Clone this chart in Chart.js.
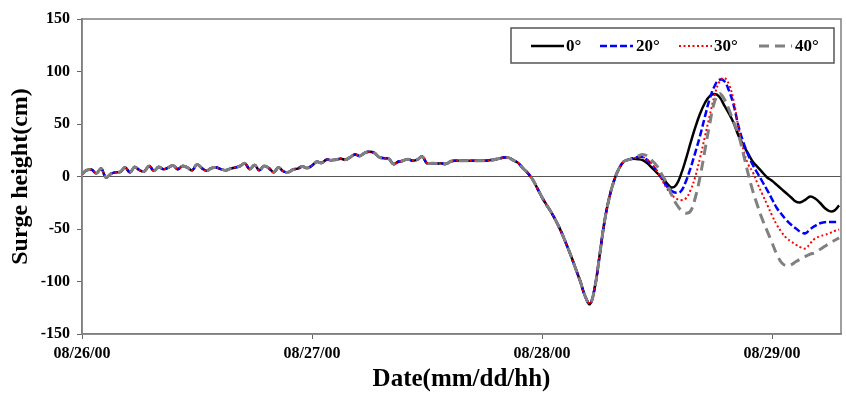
<!DOCTYPE html>
<html>
<head>
<meta charset="utf-8">
<script src="https://cdn.jsdelivr.net/npm/chart.js@4.4.0/dist/chart.umd.min.js"></script>
<style>
  html, body { margin: 0; padding: 0; background: #fff; }
  #wrap { width: 846px; height: 398px; }
</style>
</head>
<body>
<div id="wrap"><canvas id="surgeChart"></canvas></div>
<script>
// x axis in hours from 08/26/00, one sample every half hour
const dayLabels = ['08/26/00', '08/27/00', '08/28/00', '08/29/00']
const angleLabels = ['0\u00b0', '20\u00b0', '30\u00b0', '40\u00b0']

// all four runs overlap until about 08/28/09
const sharedDay1 = [
  2.2, 6, 6.5, 3, 7.5, -1, 2.5, 4, 4.5, 8.5, 4, 9,
  6, 5, 10, 5.5, 9, 7, 8.5, 10.5, 7, 10, 8.5, 6,
  11.5, 8, 5.5, 8, 8.5, 7, 6, 7.5, 8.5, 10, 12.5, 7,
  11, 6, 10, 8, 4, 8.5, 5, 4, 6.5, 7.5, 9.5, 8
]
const sharedDay2 = [
  10.5, 14, 13, 16, 15.5, 16, 17, 16, 18.5, 21, 19.5, 22.5,
  23.5, 22.5, 18.5, 17.5, 17, 11.8, 14, 15, 16.5, 15, 16, 19,
  12.7, 12.7, 12.4, 12.5, 12, 14.5, 15, 15, 15, 15, 15, 15,
  15, 15.5, 16, 17, 18, 18, 15.5, 13, 8, 3.5, -2.5, -11
]
const sharedDay3 = [
  -19.8, -27.4, -34.6, -43, -52.5, -63.5, -75, -87.5, -100, -114,
  -121.5, -106, -76, -44, -21, -4.5, 7, 14, 16
]

// from 08/28/09:30 to 08/29/07
const tail0 = [
  17, 16.5, 15.5, 12.5, 8, 3.5, -1, -6, -10.5, -8, 2,
  16, 32, 47, 60, 70, 76.5, 78.5, 76, 68, 60, 51,
  39, 30, 22, 14, 9, 4, -1, -4, -8, -12, -16,
  -20, -24, -24.5, -22, -19, -21, -25, -30, -33, -32.5, -27.5
]
const tail20 = [
  17.5, 18.5, 18.5, 15.5, 11, 5, -2, -9, -13.5, -15.5, -14,
  -5, 8, 23, 39, 57, 74, 86, 92, 91, 82, 68,
  48, 33, 21, 11, 3, -5, -13, -21.5, -30, -36, -41.5,
  -46, -49.5, -53, -54, -50, -47, -44.5, -43.5, -43.3, -43.3, -43.3
]
const tail30 = [
  17, 18.5, 18.5, 16, 11.5, 5, -3, -11, -17, -21, -22.5,
  -21, -13, 0, 18, 38, 58, 77, 90, 94, 88, 72,
  47, 26, 12, 4, -7, -17, -27, -37, -46, -53, -58.5,
  -62, -65, -67.5, -68.5, -63.5, -59, -57, -55.5, -54, -52, -50.5
]
const tail40 = [
  17, 19.5, 21, 19.5, 15, 10, 2, -6, -17, -26, -32,
  -35, -33, -20, 0, 25, 50, 71, 79, 74, 64, 52,
  40, 22, 3, -14, -28, -41, -52, -63, -74, -82, -85,
  -84, -81, -78.5, -76, -74, -72.5, -69.5, -66.5, -63.5, -61, -58.5
]

const shared = sharedDay1.concat(sharedDay2, sharedDay3)
const hours = []
for (let i = 0; i < shared.length + tail0.length; i++) hours.push(i * 0.5)

function toPoints (tail) {
  return shared.concat(tail).map((v, i) => ({ x: hours[i], y: v }))
}

const serif = 'Liberation Serif, Times New Roman, serif'

const frameBox = {
  id: 'frameBox',
  afterDatasetsDraw (chart) {
    const a = chart.chartArea
    const ctx = chart.ctx
    ctx.save()
    ctx.strokeStyle = '#7f7f7f'
    ctx.lineWidth = 1.5
    ctx.strokeRect(a.left, a.top, a.right - a.left, a.bottom - a.top)
    ctx.restore()
  }
}

// legend box sits inside the plot, top right
const legendBox = {
  id: 'legendBox',
  afterDraw (chart) {
    const ctx = chart.ctx
    const lineX = [531, 600, 679, 759]
    const textX = [566, 636, 714, 795]
    const y = 46
    ctx.save()
    ctx.fillStyle = '#fff'
    ctx.fillRect(511, 28, 323, 35)
    ctx.strokeStyle = '#555'
    ctx.lineWidth = 1.5
    ctx.strokeRect(511, 28, 323, 35)
    chart.data.datasets.forEach((ds, i) => {
      ctx.beginPath()
      ctx.strokeStyle = ds.borderColor
      ctx.lineWidth = ds.borderWidth
      ctx.setLineDash(ds.borderDash || [])
      ctx.moveTo(lineX[i], y)
      ctx.lineTo(lineX[i] + 33, y)
      ctx.stroke()
      ctx.setLineDash([])
      ctx.fillStyle = '#000'
      ctx.font = 'bold 17px ' + serif
      ctx.textBaseline = 'middle'
      ctx.fillText(ds.label, textX[i], y + 1)
    })
    ctx.restore()
  }
}

const config = {
  type: 'line',
  data: {
    datasets: [
      { label: angleLabels[0], data: toPoints(tail0), borderColor: '#000000', borderWidth: 2.5, order: 4 },
      { label: angleLabels[1], data: toPoints(tail20), borderColor: '#0000ff', borderWidth: 2.5, borderDash: [7, 3], order: 3 },
      { label: angleLabels[2], data: toPoints(tail30), borderColor: '#ff0000', borderWidth: 2, borderDash: [2, 2.5], order: 2 },
      { label: angleLabels[3], data: toPoints(tail40), borderColor: '#808080', borderWidth: 3, borderDash: [10, 6], order: 1 }
    ]
  },
  options: {
    responsive: true,
    maintainAspectRatio: false,
    animation: false,
    layout: { padding: { left: 0, top: 19, right: 5, bottom: 0 } },
    elements: {
      point: { radius: 0 },
      line: { tension: 0.4, fill: false }
    },
    plugins: {
      legend: { display: false },
      tooltip: { enabled: false }
    },
    scales: {
      x: {
        type: 'linear',
        min: 0,
        max: 79.2,
        afterFit: (scale) => { scale.height = 64 },
        grid: { drawOnChartArea: false, tickLength: 5, tickColor: '#666' },
        border: { color: '#7f7f7f', width: 1.5 },
        ticks: {
          stepSize: 24,
          includeBounds: false,
          maxRotation: 0,
          padding: 5,
          color: '#000',
          font: { family: serif, size: 16, weight: 'bold' },
          callback: (v) => dayLabels[v / 24]
        },
        title: {
          display: true,
          text: 'Date(mm/dd/hh)',
          color: '#000',
          padding: { top: 0, bottom: 3 },
          font: { family: serif, size: 25, weight: 'bold' }
        }
      },
      y: {
        min: -150,
        max: 150,
        afterFit: (scale) => { scale.width = 82 },
        grid: {
          tickLength: 5,
          tickColor: '#666',
          color: (c) => c.tick && c.tick.value === 0 ? '#555' : 'rgba(0,0,0,0)',
          lineWidth: 1
        },
        border: { color: '#7f7f7f', width: 1.5 },
        ticks: {
          stepSize: 50,
          padding: 7,
          color: '#000',
          font: { family: serif, size: 16, weight: 'bold' }
        },
        title: {
          display: true,
          text: 'Surge height(cm)',
          color: '#000',
          padding: { top: 6, bottom: 0 },
          font: { family: serif, size: 24, weight: 'bold' }
        }
      }
    }
  },
  plugins: [frameBox, legendBox]
}

new Chart(document.getElementById('surgeChart'), config)
</script>
</body>
</html>
